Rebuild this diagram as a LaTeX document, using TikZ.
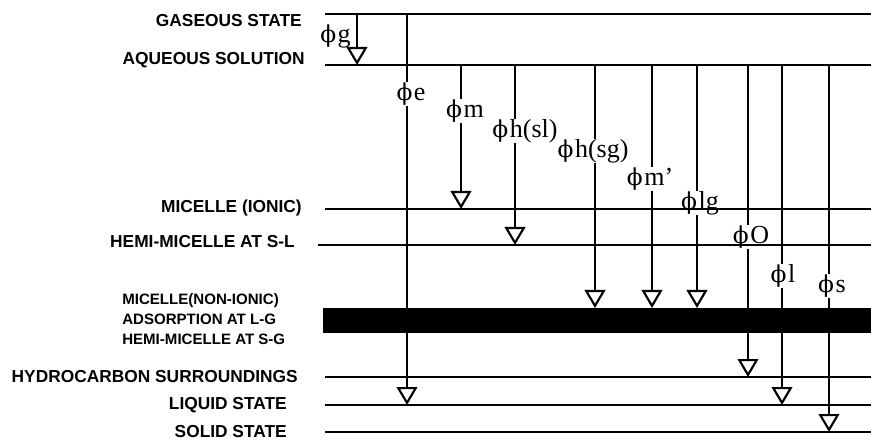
\documentclass[tikz,border=0pt]{standalone}
\usepackage{fontspec}
\setmainfont{Liberation Serif}
\newfontfamily\arialfont{Liberation Sans}
\newfontfamily\phifont{DejaVu Serif}
\usetikzlibrary{arrows.meta}
\tikzset{
  lvl/.style={line width=1.6pt},
  lvltext/.style={anchor=east,inner sep=0pt,font=\arialfont\bfseries\fontsize{13}{15}\selectfont},
  fluxlbl/.style={inner sep=0pt,font=\fontsize{19.5}{21}\selectfont},
  flux/.style={line width=1.6pt},
  fluxarr/.style={line width=1.6pt,-{Triangle[open,length=13.5pt,width=15.5pt,line width=1.6pt]}}
}
\newcommand{\phis}[1]{{\phifont\fontsize{17.5}{21}\selectfont ϕ}\hspace{0.06em}#1}

\begin{document}
\begin{tikzpicture}[x=0.75pt,y=-0.75pt]
\useasboundingbox (0,0) rectangle (871,445);
\def\xl{325}\def\xr{871}
\def\yGas{14}\def\yAq{65}\def\yMi{209}\def\yHs{245}\def\yBar{308}\def\yHc{377}\def\yLq{405}\def\ySo{432}
% levels
\draw[lvl](\xl,\yGas)--(\xr,\yGas);\node[lvltext](gas) at (302,21){GASEOUS STATE};
\draw[lvl](\xl,\yAq)--(\xr,\yAq);\node[lvltext](aq) at (305,60){AQUEOUS SOLUTION};
\draw[lvl](\xl,\yMi)--(\xr,\yMi);\node[lvltext](mi) at (302,208){MICELLE (IONIC)};
\draw[lvl](318,\yHs)--(\xr,\yHs);\node[lvltext](hs) at (295,242){HEMI-MICELLE AT S-L};
\fill(323,\yBar)rectangle(\xr,333);
\node[anchor=west,align=left,inner sep=0pt,font=\arialfont\bfseries\fontsize{11.3}{15}\selectfont](bar) at (122,319){MICELLE(NON-IONIC)\\ADSORPTION AT L-G\\HEMI-MICELLE AT S-G};
\draw[lvl](\xl,\yHc)--(\xr,\yHc);\node[lvltext](hc) at (298,377){HYDROCARBON SURROUNDINGS};
\draw[lvl](\xl,\yLq)--(\xr,\yLq);\node[lvltext](lq) at (287,405){LIQUID STATE};
\draw[lvl](\xl,\ySo)--(\xr,\ySo);\node[lvltext](so) at (287,432){SOLID STATE};
% fluxes
\coordinate(g0) at (357,\yGas);\coordinate(g1) at (357,\yAq);
\draw[fluxarr](g0)--(g1);\node[fluxlbl,anchor=east](phg) at (351,36){\phis{g}};
\foreach \n/\x/\ya/\yb/\lx/\ly/\t in {e/407/\yGas/\yLq/411/94/e,m/461/\yAq/\yMi/465/111/m,
  hsl/515/\yAq/\yHs/525/131/h(sl),hsg/595/\yAq/\yBar/593/151/h(sg),mp/652/\yAq/\yBar/650/179/m',
  lg/697/\yAq/\yBar/700/203/lg,o/748/\yAq/\yHc/751/237/O,l/782/\yAq/\yLq/783/276/l,s/829/\yAq/\ySo/832/286/s}{
  \coordinate(\n0) at (\x,\ya);\coordinate(\n1) at (\x,\yb);
  \node[fluxlbl](ph\n) at (\lx,\ly){\phis{\t}};
  \draw[flux](\n0)--(\n0 |- ph\n.north);
  \draw[fluxarr](\n0 |- ph\n.south)--(\n1);
}
\end{tikzpicture}
\end{document}
